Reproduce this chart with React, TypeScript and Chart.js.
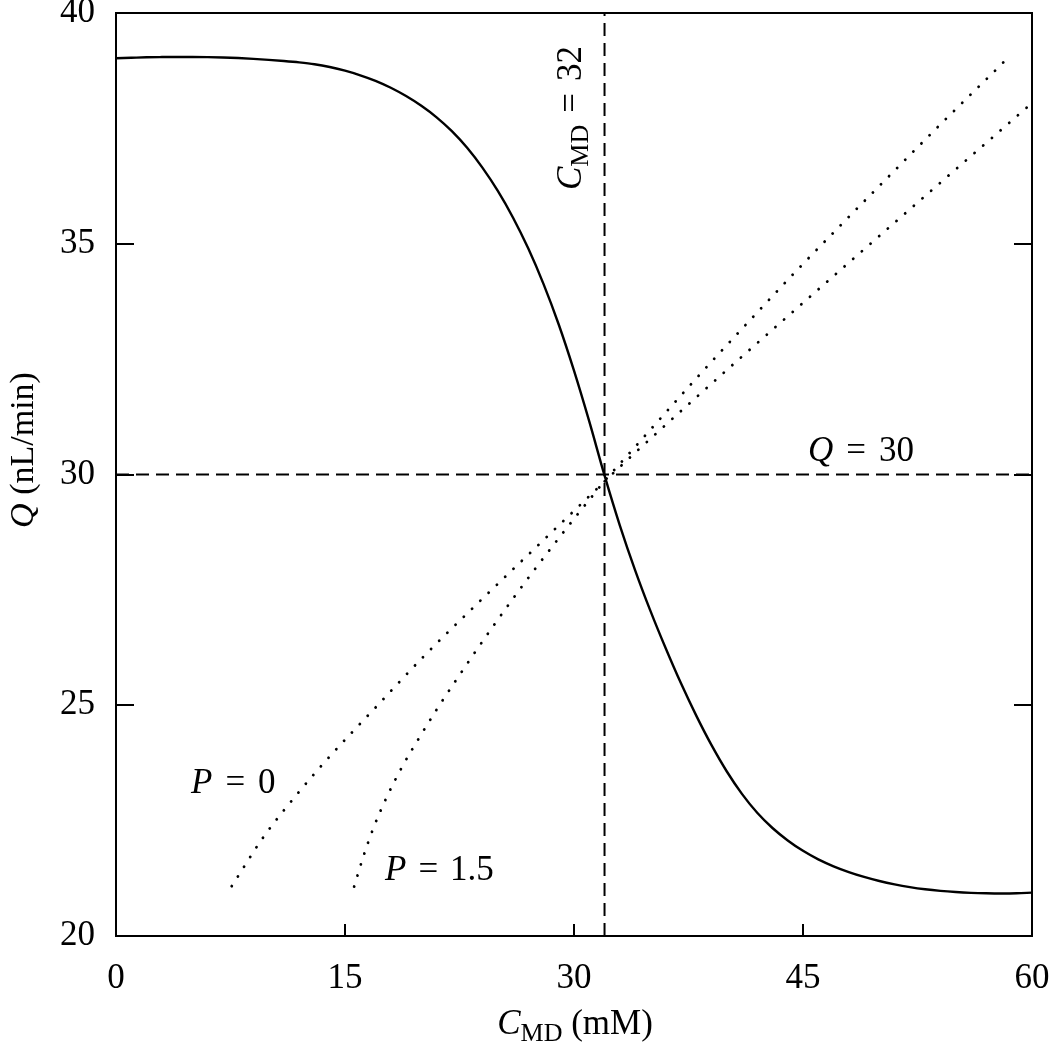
import React, { useEffect, useRef } from "react";
import { Chart, registerables } from "chart.js";

Chart.register(...registerables);

// ---- data ----
const solidC = [0, 1, 2, 3, 4, 5, 6, 7, 8, 9, 10, 11, 12, 13, 14, 15, 16, 17, 18, 19, 20, 21, 22, 23, 24, 25, 26, 27, 28, 29, 30, 31, 32, 33, 34, 35, 36, 37, 38, 39, 40, 41, 42, 43, 44, 45, 46, 47, 48, 49, 50, 51, 52, 53, 54, 55, 56, 57, 58, 59, 60];
const solidQ = [
  39.02, 39.03, 39.04, 39.045, 39.048, 39.048, 39.044, 39.036, 39.024, 39.007,
  38.985, 38.96, 38.93, 38.89, 38.83, 38.75, 38.65, 38.53, 38.38, 38.2,
  37.99, 37.74, 37.44, 37.08, 36.65, 36.15, 35.57, 34.9, 34.13, 33.25,
  32.25, 31.15, 29.98, 28.9, 27.93, 27.05, 26.24, 25.48, 24.78, 24.14,
  23.57, 23.08, 22.67, 22.34, 22.07, 21.845, 21.66, 21.51, 21.385, 21.28,
  21.192, 21.119, 21.059, 21.012, 20.977, 20.952, 20.935, 20.925, 20.921, 20.925,
  20.939,
];

const p0C = [7.58, 9.65, 11.98, 13.97, 17.08, 20.13, 23.41, 26.68, 29.96, 32.0, 33.9, 37.26, 40.61, 43.97, 47.38, 50.8, 54.23, 57.64, 60];
const p0Q = [21.08, 22.14, 23.12, 23.88, 24.98, 26.05, 27.12, 28.16, 29.2, 29.85, 30.44, 31.45, 32.44, 33.42, 34.41, 35.4, 36.39, 37.37, 38.05];

const p15C = [15.6, 16.2, 16.85, 17.72, 18.75, 19.87, 21.05, 22.31, 23.58, 24.87, 26.18, 27.51, 28.91, 30.29, 31.27, 32.0, 33.6, 35.19, 38.25, 41.35, 44.47, 47.64, 50.8, 54.01, 57.24, 58.34];
const p15Q = [21.07, 21.72, 22.33, 23.0, 23.67, 24.3, 24.93, 25.56, 26.18, 26.79, 27.39, 27.98, 28.58, 29.16, 29.56, 29.86, 30.45, 31.04, 32.17, 33.28, 34.38, 35.46, 36.52, 37.59, 38.64, 39.0];

const refQ = 30;
const refC = 32;
const xRange = [0, 60];
const yRange = [20, 40];
const xTicks = [0, 15, 30, 45, 60];
const yTicks = [20, 25, 30, 35, 40];

const FONT = '"Liberation Serif", "Times New Roman", serif';

type Run = { text?: string; size?: number; italic?: boolean; dy?: number; gap?: number };

function runsWidth(ctx: CanvasRenderingContext2D, runs: Run[]) {
  let w = 0;
  for (const r of runs) {
    if (r.gap) { w += r.gap; continue; }
    ctx.font = `${r.italic ? "italic " : ""}${r.size}px ${FONT}`;
    w += ctx.measureText(r.text || "").width;
  }
  return w;
}

function drawRuns(ctx: CanvasRenderingContext2D, x0: number, y0: number, runs: Run[], angle = 0, center = false) {
  ctx.save();
  ctx.translate(x0, y0);
  ctx.rotate(angle);
  ctx.fillStyle = "#000";
  ctx.textBaseline = "alphabetic";
  ctx.textAlign = "left";
  let cx = center ? -runsWidth(ctx, runs) / 2 : 0;
  for (const r of runs) {
    if (r.gap) { cx += r.gap; continue; }
    ctx.font = `${r.italic ? "italic " : ""}${r.size}px ${FONT}`;
    ctx.fillText(r.text || "", cx, r.dy || 0);
    cx += ctx.measureText(r.text || "").width;
  }
  ctx.restore();
}

const decor = {
  id: "decor",
  afterDraw(chart: any) {
    const { ctx, chartArea: a, scales } = chart;
    const x = scales.x;
    const y = scales.y;
    ctx.save();
    ctx.strokeStyle = "#000";
    ctx.lineWidth = 2;
    ctx.setLineDash([]);
    ctx.strokeRect(a.left, a.top, a.right - a.left, a.bottom - a.top);
    ctx.beginPath();
    for (const v of yTicks.slice(1, -1)) {
      const py = Math.round(y.getPixelForValue(v));
      ctx.moveTo(a.left, py);
      ctx.lineTo(a.left + 18, py);
      ctx.moveTo(a.right, py);
      ctx.lineTo(a.right - 18, py);
    }
    for (const v of xTicks.slice(1, -1)) {
      const px = Math.round(x.getPixelForValue(v));
      ctx.moveTo(px, a.bottom);
      ctx.lineTo(px, a.bottom - 12);
    }
    ctx.stroke();
    ctx.restore();

    const S = 35;
    // annotations
    drawRuns(ctx, 808, 461, [
      { text: "Q", size: S, italic: true }, { gap: 13 }, { text: "=", size: S }, { gap: 13 }, { text: "30", size: S },
    ]);
    drawRuns(ctx, 191, 793, [
      { text: "P", size: S, italic: true }, { gap: 13 }, { text: "=", size: S }, { gap: 13 }, { text: "0", size: S },
    ]);
    drawRuns(ctx, 385, 880, [
      { text: "P", size: S, italic: true }, { gap: 12 }, { text: "=", size: S }, { gap: 12 }, { text: "1.5", size: S },
    ]);
    drawRuns(ctx, 581, 190, [
      { text: "C", size: S, italic: true }, { text: "MD", size: 26, dy: 7 }, { gap: 12 }, { text: "=", size: S }, { gap: 12 }, { text: "32", size: S },
    ], -Math.PI / 2);
    // axis titles
    drawRuns(ctx, 33, 450, [
      { text: "Q", size: 34, italic: true }, { text: " (nL/min)", size: 34 },
    ], -Math.PI / 2, true);
    drawRuns(ctx, 575, 1034, [
      { text: "C", size: 35, italic: true }, { text: "MD", size: 26, dy: 7 }, { text: " (mM)", size: 35 },
    ], 0, true);
  },
};

export default function App() {
  const ref = useRef<HTMLCanvasElement>(null);
  useEffect(() => {
    document.body.style.margin = "0";
    const pts = (xs: number[], ys: number[]) => xs.map((c, i) => ({ x: c, y: ys[i] }));
    const dotted = {
      borderColor: "#000", borderWidth: 2.8, borderCapStyle: "round", borderDash: [0.1, 11.4],
      pointRadius: 0, cubicInterpolationMode: "monotone",
    };
    const chart = new Chart(ref.current as HTMLCanvasElement, {
      type: "line",
      data: {
        datasets: [
          {
            data: pts([xRange[0], xRange[1]], [refQ, refQ]),
            borderColor: "#000", borderWidth: 2, borderDash: [13, 7], pointRadius: 0, tension: 0,
          },
          {
            data: pts([refC, refC], [yRange[0], yRange[1]]),
            borderColor: "#000", borderWidth: 2, borderDash: [13, 7], pointRadius: 0, tension: 0,
          },
          { data: pts(p0C, p0Q), ...dotted },
          { data: pts(p15C, p15Q), ...dotted },
          {
            data: pts(solidC, solidQ),
            borderColor: "#000", borderWidth: 2.4, pointRadius: 0, cubicInterpolationMode: "monotone",
          },
        ],
      } as any,
      options: {
        animation: false,
        responsive: false,
        devicePixelRatio: 1,
        layout: { padding: { top: 13, right: 18, left: 0, bottom: 0 } },
        plugins: { legend: { display: false }, tooltip: { enabled: false } },
        scales: {
          x: {
            type: "linear",
            min: xRange[0],
            max: xRange[1],
            afterBuildTicks: (s: any) => { s.ticks = xTicks.map((v) => ({ value: v })); },
            afterFit: (s: any) => { s.height = 108; s.paddingLeft = 0; s.paddingRight = 0; },
            ticks: { font: { family: FONT, size: 35 }, color: "#000", padding: 22, maxRotation: 0, autoSkip: false },
            grid: { display: false, drawTicks: false },
            border: { display: false },
          },
          y: {
            type: "linear",
            min: yRange[0],
            max: yRange[1],
            afterBuildTicks: (s: any) => { s.ticks = yTicks.map((v) => ({ value: v })); },
            afterFit: (s: any) => { s.width = 116; s.paddingTop = 0; s.paddingBottom = 0; },
            ticks: { font: { family: FONT, size: 35 }, color: "#000", padding: 21, autoSkip: false },
            grid: { display: false, drawTicks: false },
            border: { display: false },
          },
        },
      } as any,
      plugins: [decor],
    });
    return () => chart.destroy();
  }, []);
  return (
    <div style={{ position: "absolute", left: 0, top: 0, width: 1050, height: 1044, background: "#fff" }}>
      <canvas ref={ref} width={1050} height={1044} style={{ display: "block", width: 1050, height: 1044 }} />
    </div>
  );
}
